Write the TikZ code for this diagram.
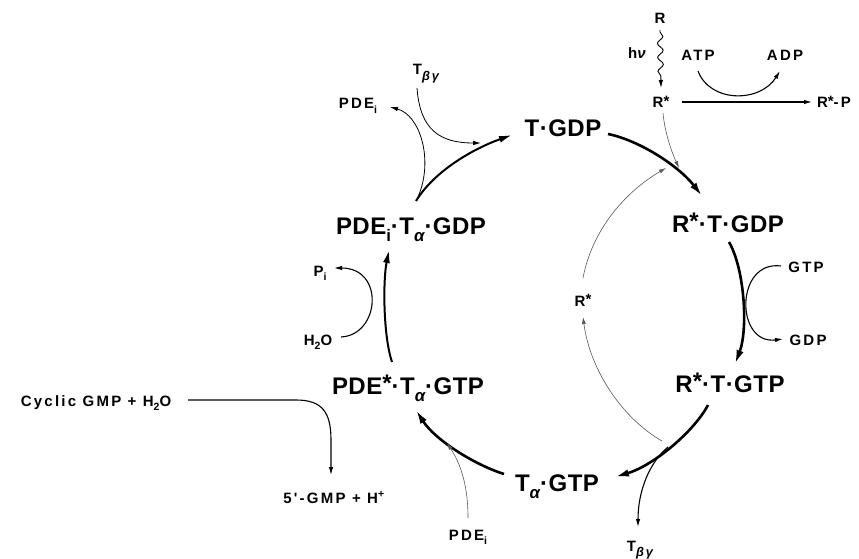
\documentclass[tikz,border=0pt]{standalone}
\usepackage{fontspec}
\setmainfont{Liberation Sans}
\newfontfamily\mainlab[LetterSpace=2]{Liberation Sans}
\newfontfamily\smalllab[LetterSpace=15]{Liberation Sans}
\usetikzlibrary{arrows.meta,decorations.pathmorphing}
\newcommand\st{\raisebox{0.12em}{*}}
\newcommand\lo[1]{\raisebox{-0.3em}{\scalebox{0.7}{#1}}}
\newcommand\al{\lo{\itshape α}}
\newcommand\bg{\raisebox{-0.35em}{\scalebox{0.85}{\itshape βγ}}}
\begin{document}
\begin{tikzpicture}[x=1pt,y=-1pt,
  main/.style={font=\mainlab\bfseries\fontsize{24}{28}\selectfont, inner sep=0pt, anchor=base},
  sm/.style={font=\smalllab\bfseries\fontsize{15}{18}\selectfont, inner sep=0pt, anchor=base},
  cyc/.style={line width=2.6pt, -{Latex[length=14pt,width=7.5pt]}},
  cycb/.style={line width=2pt, -{Latex[length=13pt,width=7pt]}},
  side/.style={line width=1.1pt, -{Latex[length=8pt,width=4.5pt]}},
  faint/.style={line width=0.6pt, black!65, -{Latex[length=7pt,width=4pt]}}
]
\useasboundingbox (0,0) rectangle (859,559);
\fill[white] (0,0) rectangle (859,559);

% main species
\node[main] (tgdp)   at (563,137) {T·GDP};
\node[main] (rtgdp)  at (728,232) {R\st·T·GDP};
\node[main] (rtgtp)  at (730,392) {R\st·T·GTP};
\node[main] (tagtp)  at (557,491) {T\al·GTP};
\node[main] (pdegtp) at (408,394) {PDE\st·T\al·GTP};
\node[main] (pdegdp) at (411,234) {PDE\lo{i}·T\al·GDP};

% small labels
\node[sm] (R)     at (660,24)  {R};
\node[sm] (hv)    at (638,59)  {h\textit{ν}};
\node[sm] (atp)   at (698,61)  {ATP};
\node[sm] (adp)   at (785,61)  {ADP};
\node[sm] (rs)    at (661,108) {R\st};
\node[sm] (rsp)   at (834,108) {R\st-P};
\node[sm] (tbg1)  at (426,75)  {T\bg};
\node[sm] (pdei1) at (358,109) {PDE\lo{i}};
\node[sm] (gtp)   at (806,272) {GTP};
\node[sm] (gdp)   at (808,345) {GDP};
\node[sm] (rmid)  at (583,306) {R\st};
\node[sm] (pi)    at (320,276) {P\lo{i}};
\node[sm] (h2o)   at (318,345) {H\lo{2}O};
\node[sm] (cycl)  at (96,406)  {Cyclic GMP + H\lo{2}O};
\node[sm] (gmp)   at (334,503) {5'-GMP + H\textsuperscript{+}};
\node[sm] (pdei2) at (468,540) {PDE\lo{i}};
\node[sm] (tbg2)  at (640,551) {T\bg};

% main cycle
\draw[cyc] ([shift={(45,-3)}]tgdp.base) .. controls (638,140) and (678,165) .. ([shift={(-26,-36)}]rtgdp.base);
\draw[cyc] ([shift={(1,10)}]rtgdp.base) .. controls (745,270) and (748,330) .. ([shift={(5,-28)}]rtgtp.base);
\draw[cyc] ([shift={(-22,13)}]rtgtp.base) .. controls (695,430) and (655,465) .. ([shift={(58,-14)}]tagtp.base);
\draw[cyc] ([shift={(-53,-17)}]tagtp.base) .. controls (475,465) and (435,440) .. ([shift={(8,16)}]pdegtp.base);
\draw[cycb] ([shift={(-16,-32)}]pdegtp.base) .. controls (383,335) and (383,280) .. ([shift={(-22,16)}]pdegdp.base);
\draw[cycb] ([shift={(5,-33)}]pdegdp.base) .. controls (435,170) and (475,148) .. ([shift={(-51,-2)}]tgdp.base);

% top left: T_beta gamma in, PDE_i out
\draw[side, line width=0.8pt] ([shift={(7,-37)}]pdegdp.base) .. controls (434,160) and (420,115) .. ([shift={(32,-2)}]pdei1.base);
\draw[side, line width=0.8pt] ([shift={(-9,13)}]tbg1.base) .. controls (420,130) and (440,143) .. ([shift={(-82,6)}]tgdp.base);

% top right: light, phosphorylation
\draw[line width=0.9pt, decorate, decoration={snake, amplitude=2.8pt, segment length=14pt, pre length=2pt, post length=9pt}, -{Latex[length=8pt,width=4.5pt]}]
  ([shift={(0,6)}]R.base) -- ([shift={(0,-20)}]rs.base);
\draw[side] ([shift={(21,-6)}]rs.base) -- ([shift={(-22,-6)}]rsp.base);
\draw[side] ([shift={(0,10)}]atp.base) .. controls (710,103) and (760,103) .. ([shift={(-5,10)}]adp.base);
\draw[faint] ([shift={(2,5)}]rs.base) .. controls (665,135) and (673,155) .. ([shift={(-49,-64)}]rtgdp.base);

% right: GTP in, GDP out
\draw[side] ([shift={(-25,-6)}]gtp.base) .. controls (735,260) and (735,345) .. ([shift={(-25,-6)}]gdp.base);

% inner R* recycling and T_beta gamma release
\coordinate (junc) at ([shift={(-62,55)}]rtgtp.base);
\coordinate (rstart) at ([shift={(-68,49)}]rtgtp.base);
\draw[faint] (rstart) .. controls (622,418) and (590,370) .. ([shift={(0,11)}]rmid.base);
\draw[faint] ([shift={(0,-28)}]rmid.base) .. controls (592,230) and (625,192) .. ([shift={(-62,-64)}]rtgdp.base);
\draw[side] (junc) .. controls (650,462) and (638,490) .. ([shift={(-2,-24)}]tbg2.base);

% bottom: PDE_i in
\draw[faint] ([shift={(0,-22)}]pdei2.base) .. controls (468,480) and (458,460) .. ([shift={(39,49)}]pdegtp.base);

% left: H2O in, P_i out
\draw[side] ([shift={(23,-8)}]h2o.base) .. controls (380,335) and (385,268) .. ([shift={(14,-8)}]pi.base);

% cGMP hydrolysis
\draw[side] ([shift={(92,-6)}]cycl.base) -- (296,400) .. controls (322,400) and (331,412) .. (331,440) -- ([shift={(-3,-28)}]gmp.base);
\end{tikzpicture}
\end{document}
